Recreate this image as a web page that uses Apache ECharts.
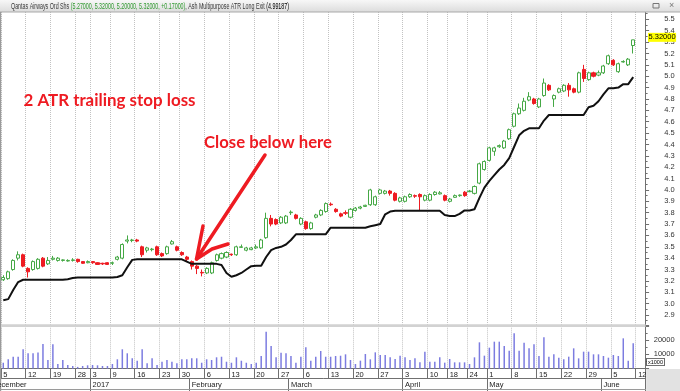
<!DOCTYPE html>
<html><head><meta charset="utf-8">
<script src="https://cdn.jsdelivr.net/npm/echarts@6/dist/echarts.min.js"></script>
<style>html,body{margin:0;padding:0;background:#fff;}#c{width:680px;height:391px;}</style>
</head><body><div id="c"></div>
<script>
// ---- data (Qantas Airways, daily, 5 Dec 2016 - 9 Jun 2017) ----
const holidays = ['2016-12-26','2016-12-27','2017-01-02','2017-01-26','2017-04-14','2017-04-17','2017-04-25'];
const opens = [
3.21,3.22,3.30,3.40,3.43,3.31,3.30,3.31,3.40,3.35,
3.39,3.38,3.38,3.375,3.38,3.39,3.37,3.36,3.37,3.36,
3.355,3.36,3.355,3.39,3.40,3.55,3.555,3.56,3.50,3.47,
3.475,3.50,3.44,3.44,3.525,3.50,3.45,3.41,3.37,3.33,
3.275,3.27,3.27,3.38,3.40,3.41,3.435,3.43,3.495,3.47,
3.475,3.49,3.49,3.58,3.75,3.74,3.71,3.71,3.80,3.78,
3.70,3.72,3.66,3.76,3.78,3.81,3.875,3.83,3.79,3.80,
3.76,3.82,3.84,3.855,3.87,3.87,3.97,3.97,3.99,3.97,
3.90,3.90,3.94,3.95,3.96,3.91,3.91,3.96,3.965,3.95,
3.90,3.935,3.95,3.98,3.985,3.97,4.06,4.18,4.26,4.34,
4.38,4.37,4.45,4.56,4.67,4.70,4.79,4.80,4.73,4.83,
4.92,4.80,4.86,4.87,4.92,4.89,4.86,5.06,4.97,5.03,
5.01,5.03,5.11,5.14,5.04,5.125,5.10,5.27];
const closes = [
3.23,3.28,3.38,3.43,3.33,3.28,3.37,3.39,3.33,3.38,
3.40,3.40,3.385,3.38,3.385,3.37,3.355,3.37,3.36,3.345,
3.35,3.345,3.36,3.41,3.52,3.56,3.56,3.55,3.43,3.49,
3.48,3.43,3.42,3.50,3.545,3.47,3.43,3.39,3.33,3.31,
3.27,3.31,3.36,3.43,3.44,3.45,3.43,3.50,3.50,3.49,
3.49,3.50,3.56,3.75,3.70,3.70,3.76,3.77,3.805,3.75,
3.75,3.66,3.71,3.78,3.82,3.88,3.87,3.81,3.77,3.795,
3.83,3.84,3.85,3.865,4.00,3.94,4.00,3.99,3.97,3.91,
3.93,3.94,3.96,3.945,3.94,3.95,3.96,3.98,3.975,3.91,
3.92,3.95,3.955,3.95,3.99,4.03,4.23,4.25,4.37,4.37,
4.39,4.43,4.53,4.67,4.72,4.78,4.82,4.76,4.80,4.94,
4.88,4.83,4.89,4.92,4.88,4.86,5.03,4.98,5.03,5.00,
5.03,5.09,5.18,5.10,5.11,5.13,5.15,5.32];
const lows = [
3.20,3.21,3.29,3.38,3.32,3.23,3.29,3.30,3.32,3.34,
3.38,3.37,3.37,3.37,3.37,3.36,3.35,3.355,3.35,3.34,
3.34,3.34,3.34,3.38,3.39,3.53,3.54,3.54,3.41,3.45,
3.46,3.42,3.41,3.43,3.52,3.46,3.42,3.37,3.30,3.26,
3.24,3.26,3.26,3.37,3.39,3.40,3.42,3.42,3.49,3.46,
3.47,3.48,3.48,3.57,3.68,3.69,3.70,3.70,3.78,3.74,
3.69,3.65,3.65,3.75,3.77,3.80,3.86,3.80,3.76,3.78,
3.75,3.81,3.83,3.85,3.86,3.86,3.96,3.96,3.95,3.90,
3.89,3.89,3.93,3.93,3.82,3.90,3.90,3.95,3.96,3.90,
3.89,3.93,3.94,3.94,3.98,3.96,4.05,4.17,4.25,4.30,
4.37,4.36,4.44,4.55,4.66,4.69,4.78,4.75,4.72,4.82,
4.87,4.73,4.85,4.86,4.82,4.85,4.85,4.95,4.96,4.99,
5.00,5.02,5.10,5.09,5.03,5.12,5.09,5.20];
const highs = [
3.25,3.29,3.39,3.46,3.44,3.32,3.38,3.40,3.41,3.41,
3.42,3.41,3.39,3.39,3.40,3.395,3.375,3.38,3.375,3.365,
3.36,3.365,3.37,3.42,3.53,3.60,3.57,3.57,3.51,3.50,
3.49,3.51,3.45,3.51,3.56,3.51,3.46,3.42,3.38,3.34,
3.30,3.32,3.37,3.44,3.45,3.46,3.44,3.51,3.52,3.50,
3.50,3.52,3.57,3.80,3.78,3.75,3.77,3.78,3.82,3.79,
3.76,3.73,3.72,3.79,3.83,3.89,3.89,3.84,3.80,3.82,
3.84,3.85,3.86,3.87,4.01,3.95,4.01,4.00,4.00,3.98,
3.94,3.95,3.97,3.96,3.97,3.96,3.97,3.99,3.99,3.96,
3.93,3.96,3.96,3.99,4.00,4.04,4.24,4.26,4.38,4.38,
4.40,4.44,4.54,4.68,4.76,4.81,4.86,4.81,4.81,4.98,
4.93,4.84,4.90,4.93,4.94,4.90,5.04,5.10,5.04,5.04,
5.05,5.10,5.19,5.15,5.12,5.14,5.16,5.32];
// volume, x1000 shares
const volumes = [
4100,6500,8300,8300,13500,10700,10700,11200,17200,6000,
17000,3200,6000,2500,1800,1200,1800,2300,2500,2300,
1800,1800,3200,6500,13500,10700,7200,5500,13500,3700,
7200,2500,4800,6000,4800,3700,6500,6500,7200,7200,
4100,6500,6000,7900,8300,4800,4100,7900,5500,4100,
3200,4100,8800,25800,15800,7900,11100,10700,8800,4100,
8300,14900,5500,8300,12300,8300,8300,8800,9000,9980,
6010,3220,5550,10210,6480,11370,9510,9510,7880,6710,
9040,7880,6010,7180,4380,11840,4850,4850,7880,4150,
6710,4380,4380,4380,3220,7880,18370,9040,14640,18830,
18830,15800,12540,24660,12540,18130,14170,16970,8810,21870,
8340,10000,7640,6480,8340,14170,7180,11840,11840,9980,
9980,8810,7640,9510,8810,21170,5550,17670];
// Ash Multipurpose ATR Long Exit (2 ATR trailing stop)
const atrStop = [
3.03,3.04,3.12,3.19,3.21,3.21,3.21,3.21,3.21,3.21,
3.21,3.21,3.21,3.215,3.225,3.23,3.23,3.23,3.23,3.23,
3.23,3.23,3.23,3.235,3.25,3.32,3.385,3.39,3.39,3.39,
3.39,3.39,3.39,3.39,3.39,3.39,3.39,3.37,3.35,3.35,
3.35,3.35,3.35,3.35,3.34,3.27,3.237,3.25,3.27,3.30,
3.33,3.334,3.334,3.41,3.47,3.49,3.50,3.52,3.56,3.61,
3.61,3.61,3.61,3.61,3.61,3.61,3.668,3.668,3.668,3.668,
3.668,3.668,3.668,3.668,3.68,3.69,3.70,3.786,3.81,3.817,
3.817,3.817,3.817,3.817,3.817,3.817,3.817,3.817,3.817,3.78,
3.77,3.77,3.79,3.82,3.82,3.83,3.93,4.02,4.08,4.13,
4.18,4.22,4.28,4.38,4.48,4.52,4.542,4.542,4.542,4.61,
4.659,4.659,4.659,4.659,4.659,4.659,4.659,4.659,4.727,4.74,
4.78,4.84,4.894,4.894,4.90,4.93,4.93,4.99187];
const monthNames = ['2017','February','March','April','May','June','July','August','September','October','November','December'];
const priceTicks = {min: 2.8, max: 5.6, step: 0.1};
const volumeTicks = {min: 0, max: 30000, step: 10000, labels: [10000, 20000]};

// ---- trading-day categories (incl. two future slots) ----
const dates = [];
for (let t = Date.UTC(2016, 11, 5); t <= Date.UTC(2017, 5, 13); t += 86400000) {
  const d = new Date(t), wd = d.getUTCDay();
  if (wd === 0 || wd === 6) continue;
  const s = d.toISOString().slice(0, 10);
  if (holidays.indexOf(s) >= 0) continue;
  dates.push(s);
}
const dObj = dates.map(s => new Date(s + 'T00:00:00Z'));
const weekTick = i => i === 0 || dObj[i].getUTCDay() < dObj[i - 1].getUTCDay();
const monthTick = i => i > 0 && dObj[i].getUTCMonth() !== dObj[i - 1].getUTCMonth();

const RED = '#ee1b22', GREEN = '#45a845';
const AX = '#707070', GRIDC = '#c2c2c2';
const FF = 'Liberation Sans';
const candles = opens.map((o, i) => [o, closes[i], lows[i], highs[i]]);

const chart = echarts.init(document.getElementById('c'), null, {renderer: 'canvas'});
chart.setOption({
  animation: false,
  grid: [
    {left: 0.8, right: 34.4, top: 8, height: 318.4},
    {left: 0.8, right: 34.4, top: 325.7, height: 42.9}
  ],
  xAxis: [
    {type: 'category', gridIndex: 0, data: dates, boundaryGap: true,
     axisLine: {show: false}, axisTick: {show: false}, axisLabel: {show: false},
     splitLine: {show: true, interval: weekTick, lineStyle: {color: GRIDC, type: 'dotted', width: 1}}},
    {type: 'category', gridIndex: 1, data: dates, boundaryGap: true,
     axisLine: {show: true, lineStyle: {color: AX, width: 1}},
     axisTick: {show: true, interval: weekTick, length: 9.4, lineStyle: {color: AX}},
     axisLabel: {show: true, interval: weekTick, align: 'left', margin: 2.5, fontSize: 7.5, fontFamily: FF, color: '#222',
                 formatter: (v) => String(Number(v.slice(8, 10)))},
     splitLine: {show: true, interval: weekTick, lineStyle: {color: GRIDC, type: 'dotted', width: 1}}},
    {type: 'category', gridIndex: 1, data: dates, boundaryGap: true, position: 'bottom', offset: 9.4,
     axisLine: {show: true, lineStyle: {color: AX, width: 1}},
     axisTick: {show: true, interval: monthTick, length: 13, lineStyle: {color: AX}},
     axisLabel: {show: true, interval: monthTick, align: 'left', margin: 2.5, fontSize: 7.5, fontFamily: FF, color: '#222',
                 formatter: (v) => monthNames[(Number(v.slice(5, 7)) + 11) % 12]},
     splitLine: {show: false}}
  ],
  yAxis: [
    {type: 'value', gridIndex: 0, position: 'right', min: priceTicks.min, max: priceTicks.max, interval: priceTicks.step,
     axisLine: {show: true, lineStyle: {color: AX}},
     axisTick: {show: true, length: 3.5, lineStyle: {color: AX}},
     minorTick: {show: true, splitNumber: 2, length: 2, lineStyle: {color: AX}},
     splitLine: {show: false},
     axisLabel: {showMinLabel: false, showMaxLabel: false, align: 'right', margin: 29, fontSize: 7.5, fontFamily: FF, color: '#333',
                 formatter: v => v.toFixed(1)}},
    {type: 'value', gridIndex: 1, position: 'right', min: volumeTicks.min, max: volumeTicks.max, interval: volumeTicks.step,
     axisLine: {show: true, lineStyle: {color: AX}},
     axisTick: {show: true, length: 3.5, lineStyle: {color: AX}},
     minorTick: {show: true, splitNumber: 2, length: 2, lineStyle: {color: AX}},
     splitLine: {show: false},
     axisLabel: {align: 'right', margin: 29, fontSize: 7.5, fontFamily: FF, color: '#333',
                 formatter: v => volumeTicks.labels.indexOf(v) >= 0 ? String(v) : ''}}
  ],
  series: [
    {type: 'candlestick', xAxisIndex: 0, yAxisIndex: 0, data: candles, barWidth: 3.6,
     itemStyle: {color: '#ffffff', color0: RED, borderColor: GREEN, borderColor0: RED, borderWidth: 1}},
    {type: 'line', xAxisIndex: 0, yAxisIndex: 0, data: atrStop, symbol: 'none', z: 3,
     lineStyle: {color: '#111', width: 2}},
    {type: 'bar', xAxisIndex: 1, yAxisIndex: 1, data: volumes, barWidth: 1.5,
     itemStyle: {color: '#7c7ce0'}}
  ]
});

// ---- overlay annotations ----
const ctx = document.createElement('canvas').getContext('2d');
function fit(text, font, w) { ctx.font = font; return w / ctx.measureText(text).width; }
const n = closes.length - 1;
const f5 = v => v.toFixed(5);
const chg = closes[n] - closes[n - 1];
const tA = 'Qantas Airways Ord Shs ';
const tG = '(' + [f5(opens[n]), f5(highs[n]), f5(lows[n]), f5(closes[n]), (chg >= 0 ? '+' : '') + f5(chg)].join(', ') + ')';
const tC = ', Ash Multipurpose ATR Long Exit ';
const tB = '(' + f5(atrStop[n]) + ')';
const TF = '8.5px ' + FF;
const titleScale = fit(tA + tG + tC + tB, TF, 278);
const AF = 'bold 17px Lato';
const a1 = '2 ATR trailing stop loss', a2 = 'Close below here';
const s1 = fit(a1, AF, 172), s2 = fit(a2, AF, 128);
const yLast = chart.convertToPixel({yAxisIndex: 0}, closes[n]);

chart.setOption({graphic: {elements: [
  {type: 'rect', z: 100, shape: {x: 0, y: 0, width: 680, height: 12},
   style: {fill: new echarts.graphic.LinearGradient(0, 0, 0, 1, [{offset: 0, color: '#f7f7f7'}, {offset: 1, color: '#dcdcdc'}])}},
  {type: 'rect', z: 100, shape: {x: 0, y: 11.5, width: 680, height: 1}, style: {fill: '#aaaaaa'}},
  {type: 'text', z: 101, x: 11, y: 6.3, scaleX: titleScale,
   style: {text: '{a|' + tA + '}{g|' + tG + '}{a|' + tC + '}{b|' + tB + '}', font: TF, verticalAlign: 'middle', align: 'left',
           rich: {a: {fill: '#3a3a3a', font: TF}, g: {fill: '#2f9a2f', font: TF}, b: {fill: '#000', font: TF}}}},
  {type: 'rect', z: 101, shape: {x: 653, y: 3.5, width: 6, height: 4.5}, style: {fill: 'none', stroke: '#777', lineWidth: 1}},
  {type: 'text', z: 101, x: 669, y: 6, style: {text: '×', font: '9px ' + FF, fill: '#777', verticalAlign: 'middle'}},
  {type: 'rect', z: 100, shape: {x: 0, y: 12, width: 1.2, height: 379}, style: {fill: '#9a9a9a'}},
  {type: 'rect', z: 100, shape: {x: 1, y: 324.3, width: 644.6, height: 2.6}, style: {fill: '#d2d2d2'}},
  {type: 'rect', z: 100, shape: {x: 646.2, y: 369, width: 34, height: 22}, style: {fill: '#e2e2e2'}},
  {type: 'rect', z: 100, shape: {x: 0, y: 389, width: 646, height: 1}, style: {fill: '#9a9a9a'}},
  {type: 'text', z: 101, x: -8, y: 380.8, style: {text: 'December', font: '7.5px ' + FF, fill: '#222', verticalAlign: 'top'}},
  {type: 'text', z: 101, x: 647, y: 362, style: {text: 'x1000', font: '5.5px ' + FF, fill: '#000', backgroundColor: '#fff',
   borderColor: '#444', borderWidth: 0.8, padding: [0.5, 1, 0, 1], verticalAlign: 'middle'}},
  {type: 'text', z: 102, x: 648, y: yLast - 2.5, style: {text: f5(closes[n]), font: '7.5px ' + FF, fill: '#000',
   backgroundColor: '#ffff00', padding: [1, 0.5, 0, 0.5], verticalAlign: 'middle'}},
  {type: 'text', z: 101, x: 23.5, y: 100.5, scaleX: s1, style: {text: a1, font: AF, fill: RED, verticalAlign: 'middle'}},
  {type: 'text', z: 101, x: 204, y: 143, scaleX: s2, style: {text: a2, font: AF, fill: RED, verticalAlign: 'middle'}},
  {type: 'polyline', z: 101, shape: {points: [[265, 155], [196.5, 259]]},
   style: {stroke: RED, lineWidth: 3.5, lineCap: 'round', fill: null}},
  {type: 'polyline', z: 101, shape: {points: [[203, 226], [196.5, 259], [212, 249], [228, 244]]},
   style: {stroke: RED, lineWidth: 3.5, lineCap: 'round', lineJoin: 'round', fill: null}}
]}});
</script>
</body></html>
